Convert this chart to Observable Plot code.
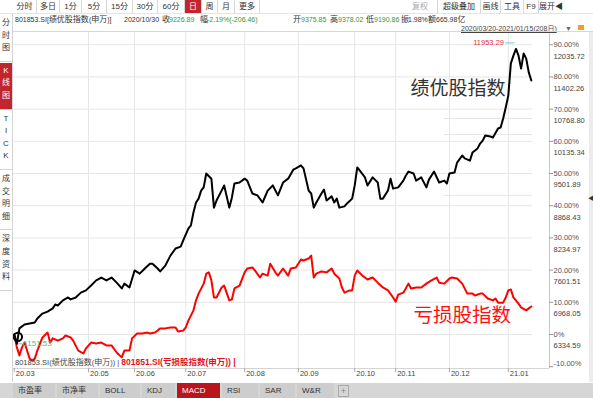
<!DOCTYPE html>
<html><head><meta charset="utf-8">
<script src="https://cdn.jsdelivr.net/npm/d3@7"></script>
<script src="https://cdn.jsdelivr.net/npm/@observablehq/plot@0.6"></script>
<style>
body{margin:0;background:#fff;}
#wrap{position:relative;width:593px;height:398px;overflow:hidden;font-family:"Liberation Sans","Noto Sans CJK SC",sans-serif;font-size:8px;color:#333;}
.a{position:absolute;white-space:nowrap;line-height:1;}
.cj{font-size:8px;}
#chart{position:absolute;left:0;top:0;}
</style></head><body><div id="wrap"><div id="chart"></div></div>
<script>
// ---------- data (trading-day index since 2020/03/20, % change) ----------
const black = [[0,0],[1,-2.9],[2,1.9],[4,3.1],[6,3.4],[8,3.7],[9,5.0],[11,6.5],[13,7.1],[15,8.1],[16,9.3],[17,9.0],[19,10.6],[21,11.5],[22,10.9],[24,11.5],[26,13.0],[28,13.7],[30,15.2],[32,16.8],[34,17.7],[36,16.8],[38,17.7],[40,16.1],[42,14.3],[43,15.8],[45,14.6],[47,19.9],[49,18.9],[51,20.5],[53,22.0],[54,22.0],[56,20.5],[57,19.6],[59,21.4],[61,24.5],[63,26.7],[65,27.3],[66,29.2],[68,32.9],[69,33.9],[70,37.9],[71,41.0],[72,42.2],[73,44.7],[74,45.7],[75,50.0],[77,48.4],[78,39.4],[79,41.6],[81,44.7],[82,46.3],[84,39.4],[85,42.5],[86,46.9],[88,47.2],[90,48.4],[91,47.8],[93,43.8],[95,43.2],[97,41.0],[99,44.7],[101,46.3],[103,43.2],[105,47.2],[107,48.4],[109,51.2],[110,51.6],[112,52.5],[113,51.6],[115,44.7],[116,43.8],[117,39.4],[118,41.0],[120,43.8],[121,45.0],[122,41.6],[124,42.9],[125,41.0],[126,42.2],[127,39.4],[129,39.8],[130,40.7],[132,42.2],[133,46.3],[134,51.9],[135,50.9],[137,48.8],[138,46.3],[140,48.8],[142,47.2],[143,42.2],[144,42.2],[146,44.7],[147,48.4],[148,45.3],[150,45.7],[152,47.8],[153,49.4],[154,50.6],[156,50.0],[157,47.8],[159,48.8],[161,45.7],[162,48.1],[164,50.6],[166,47.2],[168,47.8],[169,46.9],[170,50.0],[172,50.3],[173,53.4],[175,55.6],[176,54.7],[178,54.0],[179,56.5],[181,57.8],[182,59.3],[183,60.2],[184,61.8],[186,61.5],[187,61.2],[189,64.0],[190,64.3],[191,67.1],[192,70.5],[193,74.2],[194,84.2],[195,86.6],[196,88.7],[197,86.6],[198,82.6],[199,87.3],[200,85.7],[201,81.4],[202,78.9]];
const red = [[0,0],[1,-4.0],[2,-6.5],[3,-4.0],[4,-2.5],[6,-7.5],[7,-8.1],[8,-7.5],[9,-5.0],[11,-0.9],[13,0.6],[14,-2.5],[15,-1.2],[17,-1.9],[19,-1.2],[20,-0.3],[22,-0.9],[23,-1.9],[25,-5.0],[27,-5.9],[28,-4.3],[30,-2.5],[32,-2.8],[34,-2.5],[36,-3.4],[38,-3.4],[40,-5.6],[42,-7.1],[43,-5.0],[45,-5.0],[46,-1.2],[48,0.3],[50,0.3],[52,0.6],[53,0.3],[55,0.6],[57,1.9],[59,1.9],[61,2.2],[63,2.2],[64,0.9],[66,1.2],[67,2.2],[68,4.3],[70,7.5],[71,10.6],[72,12.7],[74,15.8],[75,18.9],[76,19.3],[77,16.8],[78,11.5],[79,11.5],[81,14.6],[82,15.2],[84,10.6],[85,10.9],[86,14.3],[88,15.2],[90,19.3],[91,20.5],[93,20.8],[94,19.9],[96,17.7],[97,18.9],[99,18.3],[100,22.0],[102,19.3],[103,18.3],[105,20.5],[107,18.3],[108,20.5],[110,20.8],[112,23.3],[113,23.0],[115,23.6],[116,24.5],[117,17.7],[118,18.9],[120,19.6],[122,19.3],[124,20.5],[125,18.9],[127,17.4],[128,14.6],[129,13.0],[131,13.7],[132,13.7],[133,18.3],[134,19.9],[136,18.3],[138,17.1],[140,17.7],[142,16.1],[144,14.6],[146,13.7],[148,11.5],[149,10.2],[150,12.4],[152,13.0],[154,15.8],[155,14.3],[157,14.6],[159,14.6],[161,15.8],[163,16.8],[165,17.7],[166,16.1],[168,15.8],[170,17.4],[171,17.7],[173,17.4],[175,15.8],[177,12.7],[179,12.7],[180,12.1],[182,12.7],[183,12.7],[185,11.2],[187,10.6],[188,11.2],[189,9.9],[191,9.9],[192,11.5],[193,13.7],[194,14.0],[195,11.5],[197,9.6],[198,8.4],[200,7.5],[201,8.1],[202,8.7]];
const levels = [90,80,70,60,50,40,30,20,10,0];
const levelValues = ["12035.72","11402.26","10768.80","10135.34","9501.89","8868.43","8234.97","7601.51","6968.05","6334.59"];
const bottomLevel = -10;
const extraLevels = [67.1,62.1,43.2];
const monthDays = [0,29,47,67,90,111,133,149,170,193];
const monthLabels = ["20.03","20.05","20.06","20.07","20.08","20.09","20.10","20.11","20.12","21.01"];
const peakLabel = "11953.29";
const minLabel = "6151.53";
const seriesNames = ["801853.SI(绩优股指数(申万))","801851.SI(亏损股指数(申万))"];
const bigLabels = ["绩优股指数","亏损股指数"];
const toolbarItems = ["分时","多日","1分","5分","15分","30分","60分","日","周","月","更多"];
const toolbarRight = ["复权","超级叠加","画线","工具","F9","展开◀"];
const quote = [["801853.SI[绩优股指数(申万)]",0],["2020/10/30",0],["收",0],["9226.89",1],["幅",0],["-2.19%(-206.46)",1],["开",0],["9375.85",1],["高",0],["9378.02",1],["低",0],["9190.86",1],["振",0],["1.98%",0],["额",0],["665.98亿",0]];
const rangeText = "2020/03/20-2021/01/15(208日)";
const sideGroups = [["分","时","图"],["K","线","图"],["T","I","C","K"],["成","交","明","细"],["深","度","资","料"]];
const tabs = ["市盈率","市净率","BOLL","KDJ","MACD","RSI","SAR","W&R"];

// ---------- layout ----------
const wrap = document.getElementById("wrap");
function el(txt, css){const d=document.createElement("div");d.className="a";d.textContent=txt;d.style.cssText=css;wrap.appendChild(d);return d;}
function mixed(t){ // CJK chars slightly larger than Latin, like the original UI font
  return t.replace(/[&<>]/g,c=>({"&":"&amp;","<":"&lt;",">":"&gt;"}[c])).replace(/([\u4e00-\u9fff]+)/g,'<span class="cj">$1</span>');
}

const tbX=[13,37,60,82,107,133,158,185,202,218,235,260];
toolbarItems.forEach((t,i)=>{
  const on = t==="日";
  el(t,`left:${tbX[i]}px;top:0;width:${tbX[i+1]-tbX[i]-1}px;height:13px;line-height:13px;text-align:center;border-right:1px solid #d8d8d8;${on?"background:#c0262b;color:#fff;":"color:#333;"}`);
});
const trX=[437,480,500,523,538,557,593];
el(toolbarRight[0],"left:412px;top:0;height:13px;line-height:13px;color:#aaa;");
toolbarRight.slice(1).forEach((t,i)=>{
  el(t,`left:${trX[i]}px;top:0;width:${trX[i+1]-trX[i]-1}px;height:13px;line-height:13px;text-align:center;border-left:1px solid #d8d8d8;color:#333;`);
});
el("","left:0;top:13px;width:593px;height:1px;background:#e4e4e4;");
const qX=[15,124,162,169,200,207,293,301,330,338,366,374,401,408,428,436];
quote.forEach(([t,g],i)=>{const d=el("",`left:${qX[i]}px;top:16px;font-size:7px;color:${g?"#2f9a36":"#333"};`);d.innerHTML=mixed(t);});
el(rangeText,"left:461px;top:25px;font-size:7px;text-decoration:underline;color:#444;");
el("▼","left:565px;top:24.5px;font-size:7px;color:#666;");
el("","left:578px;top:25px;width:6px;height:5px;background:#f0a020;");
el("","left:12px;top:31px;width:581px;height:1px;background:#d8d8d8;");
// sidebar
el("","left:12px;top:14px;width:1px;height:368px;background:#d4d4d4;");
let sy=15;
sideGroups.forEach((g,gi)=>{
  const h=g.length*12.6+8;
  el("",`left:0;top:${sy}px;width:12px;height:${h}px;${gi===1?"background:#c0262b;":""}border-bottom:1px solid #d4d4d4;`);
  g.forEach((c,ci)=>el(c,`left:0;width:12px;text-align:center;top:${sy+4+ci*12.6}px;font-size:8px;color:${gi===1?"#fff":"#333"};`));
  sy+=h+2;
});
// right edge scroller
el("","left:589px;top:32px;width:4px;height:350px;background:#ececec;");
el("◀","left:588px;top:195px;font-size:6px;color:#333;");
// legend row
const lg=el("","left:15px;top:358px;font-size:7.5px;");
lg.innerHTML=`<span style="color:#444">${mixed(seriesNames[0])} | </span><span style="color:#e0141e;font-weight:bold;font-size:8.5px">${seriesNames[1]} |</span>`;
// tab bar
el("","left:0;top:383px;width:593px;height:15px;background:#d6d6d6;");
const tabX=[13,57,100,142,177,222,260,297,336];
tabs.forEach((t,i)=>{
  const on=t==="MACD";
  el(t,`left:${tabX[i]}px;top:383px;width:${tabX[i+1]-tabX[i]-7}px;height:15px;line-height:15px;padding-left:5px;${on?"background:#b8161c;color:#fff;":"background:#cdcdcd;color:#333;"}`);
});
el("+","left:338px;top:385px;width:9px;height:10px;line-height:10px;text-align:center;border:1px solid #aaa;color:#888;font-size:9px;");

// ---------- chart ----------
const X0=-0.7, X1=209.1, Y0=-10.56, Y1=93.8, GX=202.4;
const peak = black.reduce((a,b)=>b[1]>a[1]?b:a);
const lowest = black.reduce((a,b)=>b[1]<a[1]?b:a);
const fmtPct = d => d===0 ? "0%" : d.toFixed(2)+"%";
const font = "Liberation Sans, Noto Sans CJK SC, sans-serif";

const chart = Plot.plot({
  width:593, height:398,
  marginLeft:12, marginRight:44, marginTop:32, marginBottom:30,
  x:{domain:[X0,X1], axis:null},
  y:{domain:[Y0,Y1], axis:null},
  style:{background:"transparent", fontFamily:font, overflow:"visible"},
  marks:[
    Plot.ruleY(levels,{x1:X0,x2:GX,stroke:"#e6e6e6",strokeWidth:1}),
    Plot.ruleY(extraLevels,{x1:168,x2:GX,stroke:"#e6e6e6",strokeWidth:1}),
    Plot.ruleX(monthDays.slice(1),{y1:Y0,y2:Y1,stroke:"#e6e6e6",strokeWidth:1}),
    Plot.ruleY([Y0],{x1:X0,x2:X1,stroke:"#d4d4d4"}),
    Plot.ruleX([X1],{y1:Y0,y2:Y1,stroke:"#c8c8c8"}),
    Plot.ruleY([...levels,bottomLevel],{x1:X1,x2:X1+1.6,stroke:"#999"}),
    Plot.text(levels,{x:X1,y:d=>d,dx:4,text:fmtPct,textAnchor:"start",fill:"#555",fontSize:7.5}),
    Plot.text([bottomLevel],{x:X1,y:d=>d,dx:4,dy:-3,text:fmtPct,textAnchor:"start",fill:"#555",fontSize:7.5}),
    Plot.text(levels,{x:X1,y:d=>d,dx:4,dy:11.5,text:(d,i)=>levelValues[i],textAnchor:"start",fill:"#444",fontSize:7.5}),
    Plot.ruleX(monthDays,{y1:Y0,y2:Y0-1.3,stroke:"#aaa"}),
    Plot.text(monthDays,{x:d=>d,y:Y0,dy:5,dx:1.5,text:(d,i)=>monthLabels[i],textAnchor:"start",fill:"#444",fontSize:7.5}),
    Plot.line(red,{x:d=>d[0],y:d=>d[1],stroke:"#ff0000",strokeWidth:2,curve:"linear"}),
    Plot.line(black,{x:d=>d[0],y:d=>d[1],stroke:"#000",strokeWidth:2,curve:"linear"}),
    Plot.dot([lowest],{x:d=>d[0],y:d=>d[1],r:4.2,stroke:"#000",strokeWidth:2,fill:"none",dy:-7,dx:1}),
    Plot.ruleY([lowest],{x1:d=>d[0]+0.6,x2:d=>d[0]+2.4,y:d=>d[1],stroke:"#6cc8d8"}),
    Plot.text([lowest],{x:d=>d[0],y:d=>d[1],dx:6,text:()=>minLabel,textAnchor:"start",fill:"#5fb85f",fontSize:8}),
    Plot.ruleY([peak],{x1:d=>d[0]-4,x2:d=>d[0]-0.4,y:d=>d[1],dy:-6,stroke:"#6cc8d8"}),
    Plot.text([peak],{x:d=>d[0],y:d=>d[1],dx:-12,dy:-6,text:()=>peakLabel,textAnchor:"end",fill:"#e0323a",fontSize:7.5}),
    Plot.text([bigLabels[0]],{frameAnchor:"top-left",dx:398,dy:49,text:d=>d,textAnchor:"start",fill:"#333",fontSize:19,fontFamily:"Noto Sans CJK SC"}),
    Plot.text([bigLabels[1]],{frameAnchor:"top-left",dx:401,dy:276,text:d=>d,textAnchor:"start",fill:"#ff1010",fontSize:19.5,fontFamily:"Noto Sans CJK SC"})
  ]
});
document.getElementById("chart").appendChild(chart);
</script></body></html>
